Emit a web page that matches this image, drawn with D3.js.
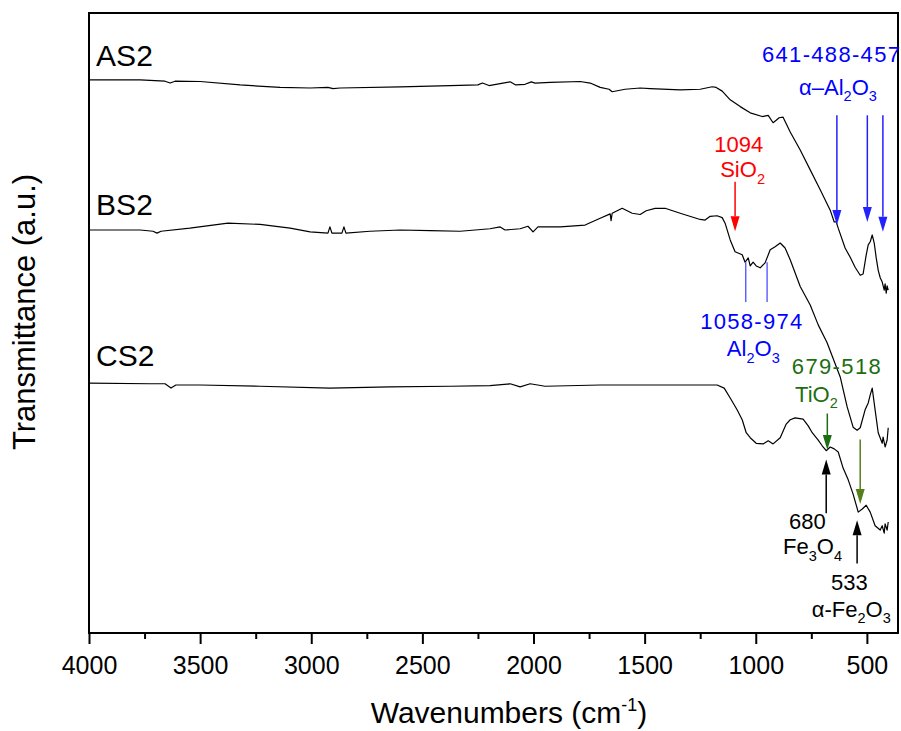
<!DOCTYPE html>
<html>
<head>
<meta charset="utf-8">
<script src="https://cdn.jsdelivr.net/npm/d3@7"></script>
<style>
  body { margin: 0; background: #fff; }
  svg text { font-family: "Liberation Sans", Arial, sans-serif; }
</style>
</head>
<body>
<svg id="chart" width="901" height="731"></svg>
<script>
// FTIR spectra, wavenumber (cm-1) vs transmittance (a.u., offset stacked)
var wnAS2 = [4000,3770,3658,3635,3613,3500,3320,3140,3005,2925,2902,2870,2600,2375,2250,2230,2200,2150,2105,2080,2038,2010,1993,1925,1790,1745,1700,1660,1646,1588,1520,1475,1340,1250,1196,1178,1151,1115,1070,1025,971,944,922,908,895,877,845,800,755,710,665,647,638,629,598,575,553,530,517,503,494,485,476,467,458,449,440,431,422,418,413,409,404];
var tAS2  = [89.2,89.2,89.0,88.7,89.0,88.95,88.4,88.0,87.9,88.0,87.8,87.9,88.1,88.3,88.4,88.7,88.3,88.6,88.9,88.4,88.5,88.9,88.7,88.8,88.95,88.7,88.0,87.7,87.3,87.7,87.9,87.8,87.6,87.7,88.1,88.0,87.4,86.0,84.9,83.9,83.3,83.5,82.3,82.7,83.1,83.2,80.8,77.9,74.7,71.5,68.2,66.3,66.3,65.3,62.1,60.6,59.0,57.7,57.9,61.0,62.6,63.1,64.2,62.9,60.5,58.5,57.3,56.6,55.3,56.3,54.8,56.0,55.3];

var wnBS2 = [4000,3770,3712,3694,3676,3546,3375,3230,3095,3005,2925,2916,2907,2862,2853,2844,2736,2600,2465,2330,2196,2150,2128,2060,2025,2002,1980,1880,1768,1700,1655,1651,1646,1601,1556,1520,1493,1453,1408,1340,1250,1228,1205,1174,1151,1138,1115,1093,1061,1048,1034,1025,1012,998,980,958,935,913,890,868,845,800,755,719,679,620,589,562,544,530,508,494,485,476,463,449,431,427,418,409,404];
var tBS2  = [65.0,65.0,64.8,64.5,64.8,65.3,66.1,65.9,65.3,64.7,64.5,65.5,64.5,64.5,65.5,64.5,64.8,65.0,64.9,64.8,65.2,65.5,65.0,65.2,65.6,64.7,65.5,65.5,65.8,66.9,67.6,66.5,67.7,68.5,67.7,67.5,68.1,68.5,68.5,67.7,66.7,66.6,67.2,67.3,67.0,66.1,63.4,61.5,61.0,59.8,60.5,59.2,59.8,59.2,58.9,59.7,61.8,62.3,62.9,62.1,60.2,55.9,52.9,49.7,46.8,41.3,36.5,33.2,32.7,33.1,36.0,37.1,38.4,39.5,36.0,32.3,30.6,31.6,30.0,31.1,33.1];

var wnCS2 = [4000,3726,3658,3631,3609,3500,3230,2916,2646,2375,2196,2105,2060,2015,1948,1700,1430,1174,1142,1115,1084,1061,1043,1025,998,967,944,922,890,863,845,823,787,764,746,719,701,683,665,647,629,607,584,562,539,521,503,485,463,440,431,422,418,409,404];
var tCS2  = [40.3,40.2,40.2,39.5,40.0,40.0,39.8,39.5,39.7,39.8,39.9,40.2,39.7,40.2,39.8,40.0,40.0,40.0,39.5,37.9,36.0,34.4,32.3,31.5,30.6,30.5,31.0,30.5,31.5,33.7,34.4,34.7,34.5,33.4,32.3,31.1,30.2,29.4,30.0,29.7,29.2,26.6,24.7,22.4,19.5,20.0,20.6,19.5,17.3,16.6,17.3,16.1,17.6,16.6,17.9];

var majorTicks = [4000,3500,3000,2500,2000,1500,1000,500];
var minorTicks = [3750,3250,2750,2250,1750,1250,750];

// series names and label anchor (wavenumber, a.u.)
var seriesNames = ["AS2","BS2","CS2"];
var seriesLabelWn = [3968,3968,3968];
var seriesLabelT  = [91.4,67.4,43.0];

// annotation arrows: wavenumber, tail a.u., tip a.u.
var arrowWn   = [635,498,428,1093,678,530,683,544];
var arrowTail = [83.5,83.5,83.5,72.8,35.4,31.2,19.3,11.2];
var arrowTip  = [65.8,66.3,64.7,64.8,29.5,20.8,28.0,18.2];
var arrowKind = ["blue","blue","blue","red","green","olive","black","black"];

// plain marker lines (1058, 974 bands)
var bandWn = [1045,949];
var bandTop = [59.8,59.8];
var bandBot = [53.4,53.4];

// annotation texts: text, start wavenumber, baseline a.u.
var noteText = ["641-488-457","α–Al_2O_3","1094","SiO_2","1058-974","Al_2O_3","679-518","TiO_2","680","Fe_3O_4","533","α-Fe_2O_3"];
var noteWn   = [972,805,1187,1160,1250,1130,838,823,850,877,661,748];
var noteT    = [92.1,86.8,77.6,73.5,49.0,44.6,41.8,37.3,16.7,12.7,7.0,2.6];
var noteKind = ["blue","blue","red","red","blue","blue","green","green","black","black","black","black"];
var noteLen  = [138,0,0,0,102,0,89,0,0,0,0,0];

var colors = {blue:"#0000ff", red:"#ff0000", green:"#1d6e12", olive:"#54801c", black:"#000"};
var arrowColors = {blue:"#2222ff", red:"#ff0000", green:"#1d6e12", olive:"#54801c", black:"#000"};

var svg = d3.select("#chart");
var x = d3.scaleLinear().domain([4000, 360]).range([89, 898]);
var y = d3.scaleLinear().domain([0, 100]).range([633, 13]);

function addRich(sel, str, size) {
  var shift = 0;
  str.match(/_.|\^\{[^}]*\}|[^_^]+/g).forEach(function(tok){
    var s = 0, txt = tok, fs = size;
    if (tok[0] === "_") { s = 0.3 * size; txt = tok.slice(1); fs = size * 0.66; }
    else if (tok[0] === "^") { s = -0.4 * size; txt = tok.slice(2, -1); fs = size * 0.6; }
    sel.append("tspan").attr("dy", s - shift).attr("font-size", fs).text(txt);
    shift = s;
  });
}

// axes
var xAxis = d3.axisBottom(x).tickValues(majorTicks).tickFormat(d3.format("d"))
  .tickSize(11).tickSizeOuter(0).tickPadding(12);
var gx = svg.append("g").attr("transform", "translate(0," + y(0) + ")").call(xAxis);
gx.select(".domain").remove();
gx.selectAll("line").attr("stroke", "#000").attr("stroke-width", 2);
gx.selectAll("text").attr("font-size", 25).attr("fill", "#000").style("font-family", "Liberation Sans, Arial, sans-serif");

var gm = svg.append("g").attr("transform", "translate(0," + y(0) + ")")
  .call(d3.axisBottom(x).tickValues(minorTicks).tickSize(6).tickFormat(""));
gm.select(".domain").remove();
gm.selectAll("line").attr("stroke", "#000").attr("stroke-width", 2);

// spectra
var line = d3.line().x(function(d){ return x(d[0]); }).y(function(d){ return y(d[1]); });
[[wnAS2,tAS2],[wnBS2,tBS2],[wnCS2,tCS2]].forEach(function(s){
  svg.append("path").datum(d3.zip(s[0], s[1]))
    .attr("d", line).attr("fill", "none").attr("stroke", "#000")
    .attr("stroke-width", 1.2).attr("stroke-linejoin", "round");
});

// frame
svg.append("rect")
  .attr("x", x(4000)).attr("y", y(100))
  .attr("width", x(360) - x(4000)).attr("height", y(0) - y(100))
  .attr("fill", "none").attr("stroke", "#000").attr("stroke-width", 2);

// series labels
seriesNames.forEach(function(n, i){
  svg.append("text").attr("x", x(seriesLabelWn[i])).attr("y", y(seriesLabelT[i]))
    .attr("font-size", 30).attr("fill", "#000").text(n);
});

// band lines
bandWn.forEach(function(w, i){
  svg.append("line").attr("x1", x(w)).attr("x2", x(w))
    .attr("y1", y(bandTop[i])).attr("y2", y(bandBot[i]))
    .attr("stroke", "#4d4dff").attr("stroke-width", 1.3);
});

// arrows
var headLen = 15, headW = 4.5;
arrowWn.forEach(function(w, i){
  var px = x(w), ya = y(arrowTail[i]), yb = y(arrowTip[i]);
  var dir = yb > ya ? 1 : -1;
  var c = arrowColors[arrowKind[i]];
  svg.append("line").attr("x1", px).attr("x2", px)
    .attr("y1", ya).attr("y2", yb - dir * headLen)
    .attr("stroke", c).attr("stroke-width", 1.5);
  svg.append("path")
    .attr("d", "M" + px + "," + yb + "L" + (px - headW) + "," + (yb - dir * headLen) +
               "L" + (px + headW) + "," + (yb - dir * headLen) + "Z")
    .attr("fill", c);
});

// annotation texts
noteText.forEach(function(s, i){
  var t = svg.append("text").attr("x", x(noteWn[i])).attr("y", y(noteT[i]))
    .attr("font-size", 22).attr("fill", colors[noteKind[i]]);
  if (noteLen[i]) t.attr("textLength", noteLen[i]).attr("lengthAdjust", "spacing");
  addRich(t, s, 22);
});

// axis titles
var xt = svg.append("text").attr("x", 509).attr("y", 723)
  .attr("text-anchor", "middle").attr("font-size", 30).attr("fill", "#000");
addRich(xt, "Wavenumbers (cm^{-1})", 30);

svg.append("text").attr("transform", "translate(35,312) rotate(-90)")
  .attr("text-anchor", "middle").attr("font-size", 31).attr("fill", "#000")
  .text("Transmittance (a.u.)");
</script>
</body>
</html>
